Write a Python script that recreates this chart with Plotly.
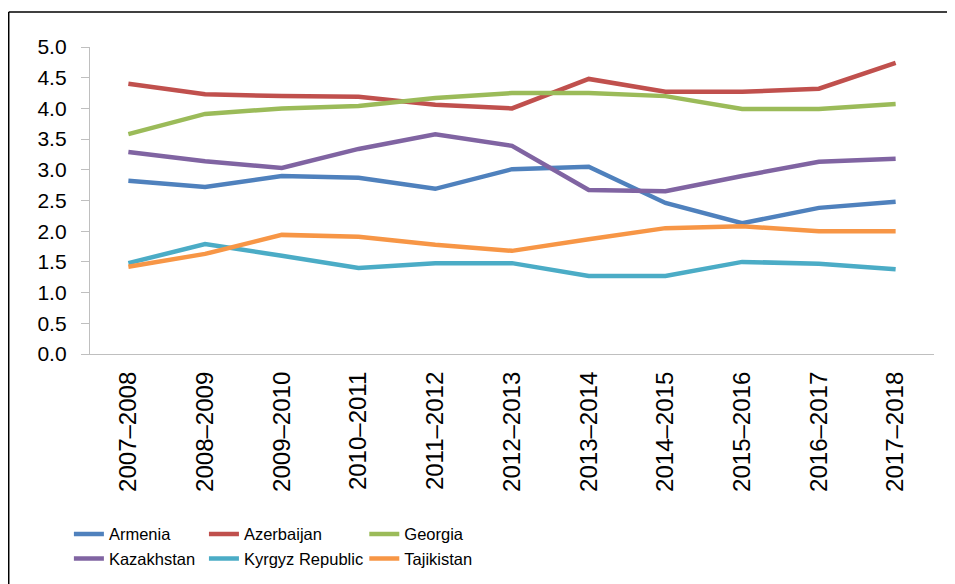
import plotly.graph_objects as go

years = ["2007–2008", "2008–2009", "2009–2010", "2010–2011", "2011–2012", "2012–2013",
         "2013–2014", "2014–2015", "2015–2016", "2016–2017", "2017–2018"]

armenia = [2.82, 2.72, 2.90, 2.87, 2.69, 3.01, 3.05, 2.46, 2.13, 2.38, 2.48]
azerbaijan = [4.40, 4.23, 4.20, 4.19, 4.06, 4.00, 4.48, 4.27, 4.27, 4.32, 4.74]
georgia = [3.58, 3.91, 4.00, 4.04, 4.17, 4.25, 4.25, 4.20, 3.99, 3.99, 4.07]
kazakhstan = [3.29, 3.14, 3.03, 3.34, 3.58, 3.39, 2.67, 2.65, 2.90, 3.13, 3.18]
kyrgyz = [1.48, 1.79, 1.60, 1.40, 1.48, 1.48, 1.27, 1.27, 1.50, 1.47, 1.38]
tajikistan = [1.42, 1.63, 1.94, 1.91, 1.78, 1.68, 1.87, 2.05, 2.08, 2.00, 2.00]

series = [
    ("Armenia", armenia, "#4F81BD", "legend"),
    ("Kazakhstan", kazakhstan, "#8064A2", "legend"),
    ("Azerbaijan", azerbaijan, "#C0504D", "legend2"),
    ("Kyrgyz Republic", kyrgyz, "#4BACC6", "legend2"),
    ("Georgia", georgia, "#9BBB59", "legend3"),
    ("Tajikistan", tajikistan, "#F79646", "legend3"),
]
draw_order = ["Armenia", "Azerbaijan", "Georgia", "Kazakhstan", "Kyrgyz Republic", "Tajikistan"]
lookup = {s[0]: s for s in series}

fig = go.Figure()
for name in draw_order:
    n, vals, col, lg = lookup[name]
    fig.add_trace(go.Scatter(x=years, y=vals, mode="lines", name=n,
                             line=dict(color=col, width=4.5), legend=lg))

legfont = dict(family="Arial", size=16.5, color="#000000")
common = dict(orientation="v", yanchor="top", xanchor="left", font=legfont,
              itemwidth=30, tracegroupgap=0, bgcolor="rgba(0,0,0,0)", traceorder="normal")

frame = dict(color="#000000", width=1.5)
fig.update_layout(
    width=947, height=576,
    margin=dict(l=82, r=21, t=39, b=230, autoexpand=False),
    paper_bgcolor="white", plot_bgcolor="white",
    showlegend=True,
    legend=dict(x=-0.025, y=-0.53, **common),
    legend2=dict(x=0.135, y=-0.53, **common),
    legend3=dict(x=0.325, y=-0.53, **common),
    xaxis=dict(type="category", range=[-0.5, 10.5], showline=True, linecolor="#BFBFBF",
               linewidth=1.3, ticks="", tickangle=-90, showgrid=False, ticklabelstandoff=7,
               tickfont=dict(family="Arial", size=24, color="#000000")),
    yaxis=dict(range=[0, 5], dtick=0.5, tickformat=".1f", showline=True,
               linecolor="#BFBFBF", linewidth=1.3, ticks="outside", ticklen=8,
               tickcolor="#BFBFBF", showgrid=False, zeroline=False, ticklabelstandoff=10,
               tickfont=dict(family="Arial", size=21, color="#000000")),
    shapes=[
        dict(type="line", xref="paper", yref="paper", x0=-0.0963, x1=1.3, y0=1.114, y1=1.114, line=frame),
        dict(type="line", xref="paper", yref="paper", x0=-0.0963, x1=-0.0963, y0=-0.8, y1=1.114, line=frame),
    ],
)

fig.write_html("out.html")
